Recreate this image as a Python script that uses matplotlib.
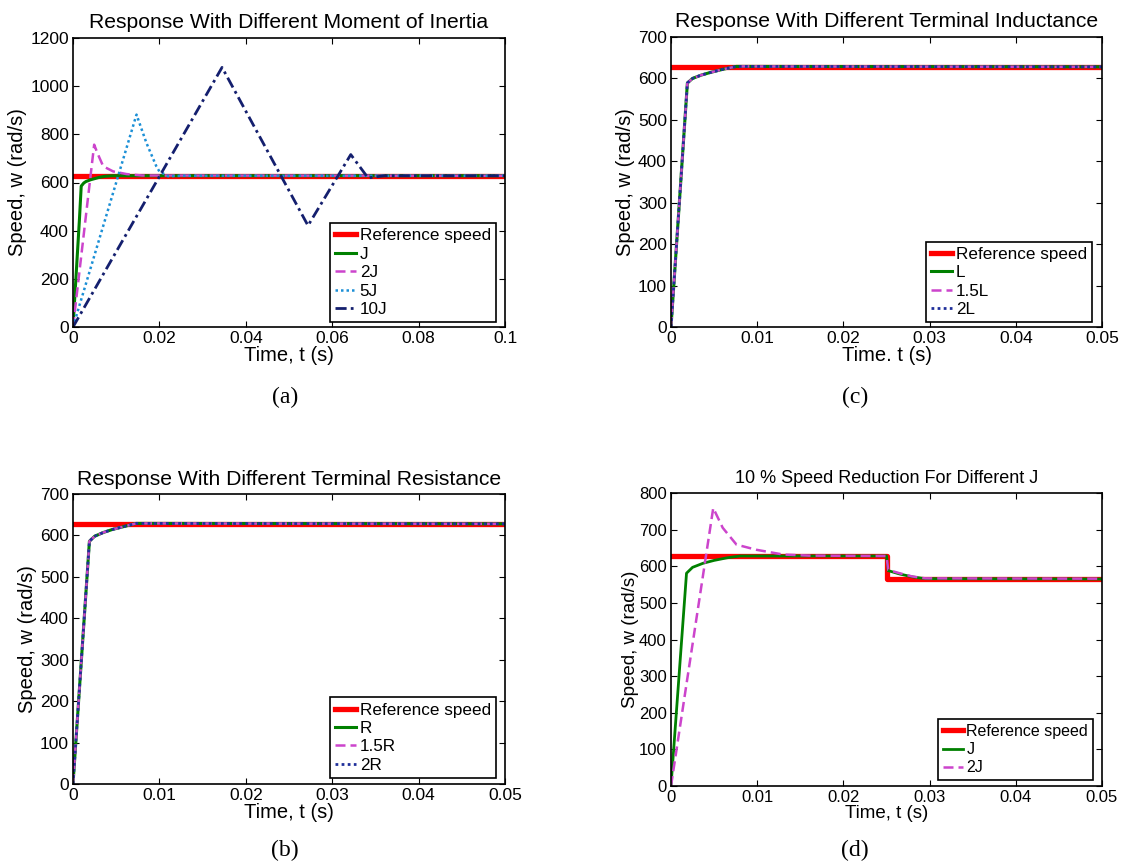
import matplotlib
matplotlib.use("Agg")
import matplotlib.pyplot as plt

plt.rcParams['font.family'] = ['Liberation Sans', 'DejaVu Sans']

# ---------------- data ----------------
# (a) Moment of inertia
a_t_ref = [0.0, 0.1]
a_w_ref = [628, 628]
a_t_J = [0, 0.0005, 0.001, 0.0015, 0.0019, 0.0025, 0.003, 0.004, 0.005, 0.006, 0.0075, 0.009, 0.1]
a_w_J = [0, 150, 300, 450, 585, 598, 604, 611, 616, 621, 626, 628, 628]
a_t_2J = [0, 0.0049, 0.0057, 0.007, 0.0093, 0.0124, 0.016, 0.1]
a_w_2J = [0, 757, 720, 667, 646, 635, 629, 628]
a_t_5J = [0, 0.0147, 0.017, 0.0193, 0.020, 0.022, 0.025, 0.1]
a_w_5J = [0, 882, 764, 667, 646, 626, 628, 628]
a_t_10J = [0, 0.0345, 0.0544, 0.0643, 0.0683, 0.072, 0.1]
a_w_10J = [0, 1078, 421, 716, 619, 628, 628]

# (c) Terminal inductance
c_t_ref = [0.0, 0.05]
c_w_ref = [628, 628]
c_t = [0, 0.0019, 0.0025, 0.0035, 0.0045, 0.006, 0.0076, 0.05]
c_w = [0, 589, 600, 608, 614, 622, 629, 628]

# (b) Terminal resistance
b_t_ref = [0.0, 0.05]
b_w_ref = [628, 628]
b_t = [0, 0.0019, 0.0025, 0.0035, 0.0045, 0.006, 0.0073, 0.05]
b_w = [0, 586, 598, 607, 614, 622, 629, 628]

# (d) 10 % speed reduction
d_t_ref = [0.0, 0.025, 0.025, 0.05]
d_w_ref = [628, 628, 565, 565]
d_t_J = [0, 0.0018, 0.0025, 0.0037, 0.005, 0.0065, 0.0080, 0.025, 0.0252, 0.0265, 0.0280, 0.0295, 0.05]
d_w_J = [0, 581, 597, 608, 616, 623, 628, 628, 588, 579, 571, 566, 565]
d_t_2J = [0, 0.0049, 0.006, 0.0076, 0.0099, 0.013, 0.016, 0.025, 0.0252, 0.0265, 0.028, 0.0295, 0.05]
d_w_2J = [0, 759, 705, 659, 645, 632, 629, 628, 590, 581, 572, 567, 566]

RED = '#ff0000'
GREEN = '#008000'
MAG = '#cc44cc'
LBLUE = '#1b8fd6'
NAVY = '#141f6e'
BLUE2 = '#1f2f9a'

W, H = 1125, 867
fig = plt.figure(figsize=(W / 100, H / 100), dpi=100)


def frac(left, top, right, bottom):
    return [left / W, 1 - bottom / H, (right - left) / W, (bottom - top) / H]


def style(ax, xlim, ylim, xticks, yticks, xlabel, title, fs_tick=12.5, fs_lab=14.5,
          fs_title=15.2, pad=7, ylabelpad=2):
    ax.set_xlim(*xlim)
    ax.set_ylim(*ylim)
    ax.set_xticks(xticks)
    ax.set_yticks(yticks)
    ax.set_xticklabels([('%g' % v) for v in xticks], fontsize=fs_tick)
    ax.set_yticklabels([('%g' % v) for v in yticks], fontsize=fs_tick)
    ax.tick_params(direction='in', top=True, right=True, length=4.5, width=0.8, pad=3)
    for s in ax.spines.values():
        s.set_linewidth(1.2)
    ax.set_xlabel(xlabel, fontsize=fs_lab, labelpad=0)
    ax.set_ylabel('Speed, w (rad/s)', fontsize=fs_lab, labelpad=ylabelpad)
    ax.set_title(title, fontsize=fs_title, pad=pad)


def legend(ax, anchor, fs=12.3):
    lg = ax.legend(loc='lower right', bbox_to_anchor=anchor, borderaxespad=0,
                   fontsize=fs, handlelength=1.25, handletextpad=0.2,
                   labelspacing=0.2, borderpad=0.3, fancybox=False,
                   frameon=True, edgecolor='black', framealpha=1)
    lg.get_frame().set_linewidth(1.2)


# (a)
ax = fig.add_axes(frac(73, 38, 505, 327))
ax.plot(a_t_ref, a_w_ref, color=RED, lw=3.8, label='Reference speed')
ax.plot(a_t_J, a_w_J, color=GREEN, lw=2.2, label='J')
ax.plot(a_t_2J, a_w_2J, color=MAG, lw=1.8, ls=(0, (4, 2)), label='2J')
ax.plot(a_t_5J, a_w_5J, color=LBLUE, lw=1.8, ls=(0, (1, 1.2)), label='5J')
ax.plot(a_t_10J, a_w_10J, color=NAVY, lw=2.0, ls=(0, (4, 1.5, 1, 1.5)), label='10J')
style(ax, (0, 0.1), (0, 1200), [0, 0.02, 0.04, 0.06, 0.08, 0.1],
      [0, 200, 400, 600, 800, 1000, 1200], 'Time, t (s)',
      'Response With Different Moment of Inertia')
legend(ax, (0.979, 0.017))

# (c)
ax = fig.add_axes(frac(671, 37, 1102, 327))
ax.plot(c_t_ref, c_w_ref, color=RED, lw=3.8, label='Reference speed')
ax.plot(c_t, c_w, color=GREEN, lw=2.2, label='L')
ax.plot(c_t, c_w, color=MAG, lw=1.8, ls=(0, (4, 2)), label='1.5L')
ax.plot(c_t, c_w, color=BLUE2, lw=2.0, ls=(0, (1, 1.2)), label='2L')
style(ax, (0, 0.05), (0, 700), [0, 0.01, 0.02, 0.03, 0.04, 0.05],
      [0, 100, 200, 300, 400, 500, 600, 700], 'Time. t (s)',
      'Response With Different Terminal Inductance')
legend(ax, (0.977, 0.017))

# (b)
ax = fig.add_axes(frac(73, 494, 505, 784))
ax.plot(b_t_ref, b_w_ref, color=RED, lw=3.8, label='Reference speed')
ax.plot(b_t, b_w, color=GREEN, lw=2.2, label='R')
ax.plot(b_t, b_w, color=MAG, lw=1.8, ls=(0, (4, 2)), label='1.5R')
ax.plot(b_t, b_w, color=BLUE2, lw=2.0, ls=(0, (1, 1.2)), label='2R')
style(ax, (0, 0.05), (0, 700), [0, 0.01, 0.02, 0.03, 0.04, 0.05],
      [0, 100, 200, 300, 400, 500, 600, 700], 'Time, t (s)',
      'Response With Different Terminal Resistance', pad=6.5)
legend(ax, (0.979, 0.021))

# (d)
ax = fig.add_axes(frac(671, 493, 1102, 786))
ax.plot(d_t_ref, d_w_ref, color=RED, lw=3.8, label='Reference speed')
ax.plot(d_t_J, d_w_J, color=GREEN, lw=2.0, label='J')
ax.plot(d_t_2J, d_w_2J, color=MAG, lw=1.8, ls=(0, (4, 2)), label='2J')
style(ax, (0, 0.05), (0, 800), [0, 0.01, 0.02, 0.03, 0.04, 0.05],
      [0, 100, 200, 300, 400, 500, 600, 700, 800], 'Time, t (s)',
      '10 % Speed Reduction For Different J', fs_tick=12, fs_lab=13.5, fs_title=13,
      pad=7, ylabelpad=0)
legend(ax, (0.979, 0.02), fs=11.5)

# sub-captions
for lab, x, y in [('(a)', 285, 397), ('(c)', 855, 397), ('(b)', 285, 850), ('(d)', 855, 850)]:
    fig.text(x / W, 1 - y / H, lab, ha='center', va='center', fontsize=17,
             family=['Liberation Serif', 'DejaVu Serif'])

fig.savefig('out.png', dpi=100)
